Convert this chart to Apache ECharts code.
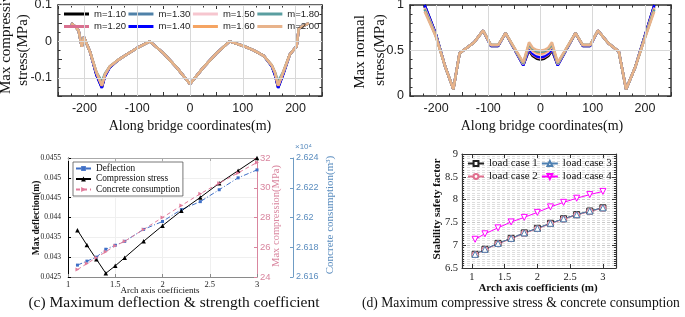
<!DOCTYPE html>
<html>
<head>
<meta charset="utf-8">
<script src="https://cdn.jsdelivr.net/npm/echarts@6/dist/echarts.min.js"></script>
<style>
html, body { margin: 0; padding: 0; background: #fff; }
#chart { width: 685px; height: 317px; }
</style>
</head>
<body>
<div id="chart"></div>
<script>
// ---- (a) max compressive stress along the bridge, one array per arch axis coefficient
const mNames = ['m=1.10', 'm=1.20', 'm=1.30', 'm=1.40', 'm=1.50', 'm=1.60', 'm=1.80', 'm=2.00'];
const mColors = ['#000000', '#d9708f', '#4f81a8', '#0000ff', '#f6c6cf', '#f5a462', '#5a9ea0', '#e8b38b'];

const xComp = [-225, -218, -211, -205, -201, -189, -177, -167, -161, -152, -135, -120, -100, -76, -50, -25, 0,
  25, 50, 75, 100, 120, 140, 155, 161, 167, 177, 189, 202, 206, 211, 218, 225];
const comp110 = [0.050, 0.042, 0.030, -0.015, 0.012, -0.030, -0.093, -0.127, -0.095, -0.071, -0.050, -0.036, -0.018, 0.000, -0.033, -0.072, -0.117,
  -0.072, -0.033, 0.000, -0.012, -0.024, -0.040, -0.068, -0.092, -0.127, -0.088, -0.036, -0.013, 0.035, 0.040, 0.045, 0.050];
const comp120 = [0.050, 0.042, 0.030, -0.015, 0.012, -0.030, -0.090, -0.125, -0.093, -0.070, -0.050, -0.036, -0.018, 0.000, -0.033, -0.072, -0.117,
  -0.072, -0.033, 0.000, -0.012, -0.024, -0.040, -0.067, -0.089, -0.125, -0.086, -0.036, -0.013, 0.035, 0.040, 0.045, 0.050];
const comp130 = [0.050, 0.042, 0.030, -0.015, 0.012, -0.030, -0.089, -0.123, -0.092, -0.070, -0.050, -0.036, -0.018, 0.000, -0.033, -0.072, -0.117,
  -0.072, -0.033, 0.000, -0.012, -0.024, -0.040, -0.067, -0.088, -0.123, -0.085, -0.036, -0.013, 0.035, 0.040, 0.045, 0.050];
const comp140 = [0.050, 0.042, 0.030, -0.015, 0.012, -0.030, -0.094, -0.128, -0.096, -0.072, -0.050, -0.036, -0.018, 0.000, -0.033, -0.072, -0.117,
  -0.072, -0.033, 0.000, -0.012, -0.024, -0.040, -0.069, -0.093, -0.128, -0.089, -0.036, -0.013, 0.035, 0.040, 0.045, 0.050];
const comp150 = [0.050, 0.042, 0.030, -0.015, 0.012, -0.030, -0.087, -0.121, -0.091, -0.069, -0.050, -0.036, -0.018, 0.000, -0.033, -0.072, -0.117,
  -0.072, -0.033, 0.000, -0.012, -0.024, -0.040, -0.066, -0.086, -0.121, -0.084, -0.036, -0.013, 0.035, 0.040, 0.045, 0.050];
const comp160 = [0.050, 0.042, 0.030, -0.015, 0.012, -0.030, -0.087, -0.122, -0.091, -0.069, -0.050, -0.036, -0.018, 0.000, -0.033, -0.072, -0.117,
  -0.072, -0.033, 0.000, -0.012, -0.024, -0.040, -0.066, -0.086, -0.122, -0.083, -0.036, -0.013, 0.035, 0.040, 0.045, 0.050];
const comp180 = [0.050, 0.042, 0.030, -0.015, 0.012, -0.030, -0.085, -0.110, -0.088, -0.069, -0.050, -0.036, -0.018, 0.000, -0.033, -0.072, -0.117,
  -0.072, -0.033, 0.000, -0.012, -0.024, -0.040, -0.066, -0.085, -0.110, -0.082, -0.036, -0.013, 0.035, 0.040, 0.045, 0.050];
const comp200 = [0.050, 0.042, 0.030, -0.015, 0.012, -0.030, -0.085, -0.120, -0.090, -0.069, -0.050, -0.036, -0.018, 0.000, -0.033, -0.072, -0.117,
  -0.072, -0.033, 0.000, -0.012, -0.024, -0.040, -0.066, -0.085, -0.120, -0.082, -0.036, -0.013, 0.035, 0.040, 0.045, 0.050];

// ---- (b) max normal stress along the bridge
const xNorm = [-222, -201, -183, -167, -155, -127, -110, -95, -81, -67, -33, -22, -15, -7, 0,
  7, 15, 22, 33, 67, 81, 95, 110, 130, 150, 164, 181, 195, 218];
const norm110 = [1.00, 0.69, 0.33, 0.075, 0.47, 0.59, 0.72, 0.55, 0.55, 0.69, 0.34, 0.50, 0.44, 0.41, 0.40,
  0.41, 0.44, 0.50, 0.34, 0.69, 0.55, 0.55, 0.72, 0.58, 0.49, 0.075, 0.31, 0.57, 1.00];
const norm120 = [0.99, 0.68, 0.33, 0.075, 0.47, 0.59, 0.72, 0.555, 0.555, 0.69, 0.34, 0.51, 0.455, 0.425, 0.415,
  0.425, 0.455, 0.51, 0.34, 0.69, 0.555, 0.555, 0.72, 0.58, 0.49, 0.075, 0.31, 0.565, 0.99];
const norm130 = [0.98, 0.68, 0.33, 0.075, 0.47, 0.59, 0.72, 0.56, 0.56, 0.69, 0.345, 0.53, 0.47, 0.44, 0.43,
  0.44, 0.47, 0.53, 0.345, 0.69, 0.56, 0.56, 0.72, 0.58, 0.49, 0.075, 0.31, 0.56, 0.98];
const norm140 = [1.00, 0.69, 0.33, 0.075, 0.47, 0.59, 0.72, 0.55, 0.55, 0.69, 0.335, 0.52, 0.465, 0.435, 0.425,
  0.435, 0.465, 0.52, 0.335, 0.69, 0.55, 0.55, 0.72, 0.58, 0.49, 0.075, 0.31, 0.57, 1.00];
const norm150 = [0.97, 0.675, 0.33, 0.075, 0.47, 0.59, 0.72, 0.56, 0.56, 0.69, 0.35, 0.55, 0.49, 0.46, 0.45,
  0.46, 0.49, 0.55, 0.35, 0.69, 0.56, 0.56, 0.72, 0.58, 0.49, 0.075, 0.31, 0.56, 0.97];
const norm160 = [0.96, 0.67, 0.33, 0.075, 0.47, 0.59, 0.72, 0.56, 0.56, 0.69, 0.355, 0.56, 0.50, 0.475, 0.465,
  0.475, 0.50, 0.56, 0.355, 0.69, 0.56, 0.56, 0.72, 0.58, 0.49, 0.075, 0.31, 0.555, 0.96];
const norm180 = [0.95, 0.665, 0.33, 0.075, 0.47, 0.59, 0.72, 0.56, 0.56, 0.69, 0.36, 0.57, 0.515, 0.49, 0.485,
  0.49, 0.515, 0.57, 0.36, 0.69, 0.56, 0.56, 0.72, 0.58, 0.49, 0.075, 0.31, 0.555, 0.95];
const norm200 = [0.93, 0.66, 0.33, 0.075, 0.47, 0.59, 0.72, 0.56, 0.56, 0.69, 0.37, 0.59, 0.53, 0.505, 0.50,
  0.505, 0.53, 0.59, 0.37, 0.69, 0.56, 0.56, 0.72, 0.58, 0.49, 0.075, 0.31, 0.55, 0.93];

// ---- (c) deflection / compression / concrete vs arch axis coefficient
const xC = [1.1, 1.2, 1.3, 1.4, 1.5, 1.6, 1.8, 2.0, 2.2, 2.4, 2.6, 2.8, 3.0];
const deflection = [0.0428, 0.0429, 0.0430, 0.0432, 0.0433, 0.0434, 0.0437, 0.0439, 0.0442, 0.0444, 0.0447, 0.0450, 0.0452];
const compression = [27.15, 26.15, 25.2, 24.25, 24.75, 25.3, 26.4, 27.45, 28.45, 29.35, 30.3, 31.15, 32.0];
const concrete = [2.6165, 2.6169, 2.6173, 2.6177, 2.6181, 2.6184, 2.6192, 2.6200, 2.6208, 2.6216, 2.6223, 2.6230, 2.6237]; // x10^4 m3

// ---- (d) stability safety factor
const xD = [1.05, 1.2, 1.4, 1.6, 1.8, 2.0, 2.2, 2.4, 2.6, 2.8, 3.0];
const lc1 = [6.80, 6.91, 7.04, 7.15, 7.27, 7.37, 7.48, 7.58, 7.67, 7.75, 7.82];
const lc2 = [6.79, 6.90, 7.03, 7.14, 7.26, 7.36, 7.47, 7.57, 7.66, 7.74, 7.81];
const lc3 = [6.80, 6.91, 7.04, 7.15, 7.27, 7.37, 7.48, 7.58, 7.67, 7.75, 7.82];
const lc4 = [7.13, 7.25, 7.38, 7.51, 7.61, 7.72, 7.84, 7.94, 8.03, 8.11, 8.18];
const dTicks = [1, 1.5, 2, 2.5, 3];

const SERIF = '"Liberation Serif", "Times New Roman", serif';
const SANS = '"Liberation Sans", Arial, sans-serif';
const FRAME = '#333';

const compArrays = [comp110, comp120, comp130, comp140, comp150, comp160, comp180, comp200];
const normArrays = [norm110, norm120, norm130, norm140, norm150, norm160, norm180, norm200];
const zip = (xs, ys) => xs.map((x, i) => [x, ys[i]]);

// a value axis drawn as one side of a closed box, ticks pointing in
function boxAxis(grid, pos, min, max, interval, minor, labelOpt) {
  return {
    type: 'value', gridIndex: grid, position: pos, min: min, max: max, interval: interval,
    axisLine: { show: true, onZero: false, lineStyle: { color: FRAME, width: 1.5 } },
    axisTick: { show: true, inside: true, length: 4, lineStyle: { color: FRAME } },
    minorTick: { show: minor > 0, splitNumber: minor || 1, length: 2.5, lineStyle: { color: FRAME } },
    axisLabel: labelOpt ? labelOpt : { show: false },
    splitLine: { show: false }
  };
}

const tenths = v => {
  const r = Math.round(v * 100) / 100;
  return Math.abs(r * 10 - Math.round(r * 10)) < 1e-6 ? String(r) : '';
};
const hundreds = v => (v % 100 === 0 && Math.abs(v) < 250) ? String(v) : '';
const topLabel = (fmt) => ({ show: true, formatter: fmt, fontFamily: SANS, fontSize: 12.5, color: '#222', margin: 6 });

const gridLineStyle = { color: '#d8d8d8', width: 1, type: 'solid' };
function gridHelper(xi, yi, marks) {
  return {
    type: 'line', xAxisIndex: xi, yAxisIndex: yi, data: [], z: 1, silent: true,
    markLine: { silent: true, symbol: ['none', 'none'], label: { show: false }, lineStyle: gridLineStyle, data: marks }
  };
}

const series = [
  gridHelper(0, 0, [{ xAxis: -200 }, { xAxis: -100 }, { xAxis: 0 }, { xAxis: 100 }, { xAxis: 200 },
    { yAxis: 0.1 }, { yAxis: 0 }, { yAxis: -0.1 }]),
  gridHelper(2, 2, [{ xAxis: -200 }, { xAxis: -100 }, { xAxis: 0 }, { xAxis: 100 }, { xAxis: 200 },
    { yAxis: 0.5 }])
];
mNames.forEach((name, i) => {
  series.push({
    name: name, type: 'line', xAxisIndex: 0, yAxisIndex: 0, showSymbol: false, z: 3,
    data: zip(xComp, compArrays[i]), color: mColors[i], lineStyle: { width: 2.5 }
  });
});
mNames.forEach((name, i) => {
  series.push({
    name: name, type: 'line', xAxisIndex: 2, yAxisIndex: 2, showSymbol: false, z: 3,
    data: zip(xNorm, normArrays[i]), color: mColors[i], lineStyle: { width: 2.5 }
  });
});

series.push(
  { name: 'Deflection', type: 'line', xAxisIndex: 4, yAxisIndex: 4, data: zip(xC, deflection),
    color: '#3f6fc6', symbol: 'rect', symbolSize: 3, lineStyle: { width: 1, type: [5, 2, 1, 2] } },
  { name: 'Compression stress', type: 'line', xAxisIndex: 4, yAxisIndex: 5, data: zip(xC, compression),
    color: '#000', symbol: 'triangle', symbolSize: 4.5, lineStyle: { width: 1 } },
  { name: 'Concrete consumption', type: 'line', xAxisIndex: 4, yAxisIndex: 6, data: zip(xC, concrete),
    color: '#e07a9a', symbol: 'triangle', symbolRotate: -90, symbolSize: 4, lineStyle: { width: 1, type: [4, 3] } }
);

const downTri = 'path://M0,0 L10,0 L5,8.66 Z';
[[lc1, 'load case 1', '#222222', 'rect'], [lc2, 'load case 2', '#e0708e', 'circle'],
 [lc3, 'load case 3', '#4d7fb0', 'triangle'], [lc4, 'load case 4', '#ff00ff', downTri]].forEach(s => {
  series.push({
    name: s[1], type: 'line', xAxisIndex: 6, yAxisIndex: 7, data: zip(xD, s[0]),
    symbol: s[3], symbolSize: 6, color: s[2],
    itemStyle: { color: '#fff', borderColor: s[2], borderWidth: 1 },
    lineStyle: { color: s[2], width: 1 }
  });
});

const txt = (x, y, text, font, fill, rot, align) => ({
  type: 'text', x: x, y: y, rotation: rot || 0, silent: true,
  style: { text: text, font: font, fill: fill || '#111', align: align || 'center', verticalAlign: 'middle',
    textAlign: align || 'center', textVerticalAlign: 'middle' }
});
const R = Math.PI / 2;

const mLegend = (names, top) => ({
  data: names, left: 64, top: top, padding: 0, icon: 'rect',
  itemWidth: 25, itemHeight: 3, itemGap: 2.5, selectedMode: false,
  textStyle: { fontFamily: SANS, fontSize: 9.5, color: '#222' }
});
const dLegend = (names, top) => ({
  data: names, left: 467, top: top, padding: 0,
  itemWidth: 16, itemHeight: 6, itemGap: 3, selectedMode: false,
  textStyle: { fontFamily: SERIF, fontSize: 11, color: '#111' }
});

const option = {
  animation: false,
  backgroundColor: '#fff',
  grid: [
    { left: 58, top: 5, width: 264, height: 91, outerBoundsMode: 'none' },
    { left: 410, top: 5, width: 261, height: 91, outerBoundsMode: 'none' },
    { left: 68, top: 158, width: 189, height: 119, outerBoundsMode: 'none' },
    { left: 462, top: 154, width: 154, height: 114, outerBoundsMode: 'none' }
  ],
  xAxis: [
    boxAxis(0, 'bottom', -250, 250, 50, 2, topLabel(hundreds)),
    boxAxis(0, 'top', -250, 250, 50, 2),
    boxAxis(1, 'bottom', -250, 250, 50, 2, topLabel(hundreds)),
    boxAxis(1, 'top', -250, 250, 50, 2),
    {
      type: 'value', gridIndex: 2, position: 'bottom', min: 1, max: 3, interval: 0.5,
      axisLine: { onZero: false, lineStyle: { color: '#8a8a8a', width: 1 } },
      axisTick: { inside: true, length: 3, lineStyle: { color: '#8a8a8a' } },
      axisLabel: { fontFamily: SERIF, fontSize: 8.5, color: '#222', margin: 3 },
      splitLine: { show: true, lineStyle: { color: '#efefef' } }
    },
    {
      type: 'value', gridIndex: 2, position: 'top', min: 1, max: 3, interval: 0.5,
      axisLine: { onZero: false, lineStyle: { color: '#aaa', width: 1 } },
      axisTick: { inside: true, length: 3, lineStyle: { color: '#aaa' } },
      axisLabel: { show: false }, splitLine: { show: false }
    },
    {
      type: 'value', gridIndex: 3, position: 'bottom', min: 0.85, max: 3.2,
      axisLine: { onZero: false, lineStyle: { color: FRAME, width: 1.2 } },
      axisTick: { inside: true, length: 4, customValues: dTicks, lineStyle: { color: FRAME } },
      axisLabel: { customValues: dTicks, fontFamily: SERIF, fontSize: 10.5, color: '#222', margin: 4 },
      splitLine: { show: false }
    },
    {
      type: 'value', gridIndex: 3, position: 'top', min: 0.85, max: 3.2,
      axisLine: { onZero: false, lineStyle: { color: FRAME, width: 1.2 } },
      axisTick: { inside: true, length: 4, customValues: dTicks, lineStyle: { color: FRAME } },
      axisLabel: { show: false }, splitLine: { show: false }
    }
  ],
  yAxis: [
    boxAxis(0, 'left', -0.15, 0.1, 0.05, 2, topLabel(tenths)),
    boxAxis(0, 'right', -0.15, 0.1, 0.05, 2),
    boxAxis(1, 'left', 0, 1, 0.5, 5, topLabel(v => String(parseFloat(v.toFixed(2))))),
    boxAxis(1, 'right', 0, 1, 0.5, 5),
    {
      type: 'value', gridIndex: 2, position: 'left', min: 0.0425, max: 0.0455, interval: 0.0005,
      axisLine: { onZero: false, lineStyle: { color: '#000', width: 1 } },
      axisTick: { inside: true, length: 3, lineStyle: { color: '#000' } },
      axisLabel: { formatter: v => String(parseFloat(v.toFixed(4))), fontFamily: SERIF, fontSize: 7.5, color: '#222', margin: 7 },
      splitLine: { show: true, lineStyle: { color: '#efefef' } }
    },
    {
      type: 'value', gridIndex: 2, position: 'right', offset: 0, min: 24, max: 32, interval: 2,
      axisLine: { onZero: false, lineStyle: { color: '#d9869f', width: 1 } },
      axisTick: { inside: true, length: 3, lineStyle: { color: '#d9869f' } },
      axisLabel: { fontFamily: SANS, fontSize: 9.5, color: '#d9869f', margin: 3 },
      splitLine: { show: false }
    },
    {
      type: 'value', gridIndex: 2, position: 'right', offset: 36, min: 2.616, max: 2.624, interval: 0.002,
      axisLine: { onZero: false, lineStyle: { color: '#6f9cc4', width: 1 } },
      axisTick: { inside: true, length: 3, lineStyle: { color: '#6f9cc4' } },
      axisLabel: { formatter: v => String(parseFloat(v.toFixed(3))), fontFamily: SANS, fontSize: 9, color: '#5b8dbf', margin: 3 },
      splitLine: { show: false }
    },
    {
      type: 'value', gridIndex: 3, position: 'left', min: 6.5, max: 9, interval: 0.5,
      axisLine: { onZero: false, lineStyle: { color: FRAME, width: 1.2 } },
      axisTick: { inside: true, length: 4, lineStyle: { color: FRAME } },
      minorTick: { show: true, splitNumber: 10, length: 2, lineStyle: { color: FRAME } },
      axisLabel: { formatter: v => String(parseFloat(v.toFixed(2))), fontFamily: SERIF, fontSize: 10.5, color: '#222', margin: 4 },
      splitLine: { show: true, lineStyle: { color: '#c8c8c8', type: [3, 2] } },
      minorSplitLine: { show: true, lineStyle: { color: '#dedede', type: [3, 2] } }
    },
    {
      type: 'value', gridIndex: 3, position: 'right', min: 6.5, max: 9, interval: 0.5,
      axisLine: { onZero: false, lineStyle: { color: FRAME, width: 1.2 } },
      axisTick: { inside: true, length: 4, lineStyle: { color: FRAME } },
      minorTick: { show: true, splitNumber: 10, length: 2, lineStyle: { color: FRAME } },
      axisLabel: { show: false }, splitLine: { show: false }
    }
  ],
  legend: [
    mLegend(['m=1.10', 'm=1.30', 'm=1.50', 'm=1.80'], 9),
    mLegend(['m=1.20', 'm=1.40', 'm=1.60', 'm=2.00'], 21.5),
    { data: ['Deflection', 'Compression stress', 'Concrete consumption'], orient: 'vertical',
      left: 73, top: 162, padding: [2, 3, 2, 2], itemWidth: 15, itemHeight: 6, itemGap: 1.5,
      borderColor: '#555', borderWidth: 0.8, backgroundColor: '#fff', selectedMode: false,
      textStyle: { fontFamily: SERIF, fontSize: 9.3, color: '#111' } },
    dLegend(['load case 1', 'load case 3'], 158),
    dLegend(['load case 2', 'load case 4'], 171)
  ],
  graphic: [
    txt(6, 41, 'Max compressive', '15px ' + SERIF, '#111', R),
    txt(23, 50, 'stress(MPa)', '15px ' + SERIF, '#111', R),
    txt(190, 126, 'Along bridge coordinates(m)', '14px ' + SERIF),
    txt(360, 52, 'Max normal', '15px ' + SERIF, '#111', R),
    txt(380, 50, 'stress(MPa)', '15px ' + SERIF, '#111', R),
    txt(542, 126, 'Along bridge coordinates(m)', '14px ' + SERIF),
    txt(37, 218, 'Max deflection(m)', 'bold 9.5px ' + SERIF, '#111', R),
    txt(160, 291, 'Arch axis coefficients', '9px ' + SERIF),
    txt(276, 216, 'Max compression(MPa)', '10.5px ' + SERIF, '#d9869f', R),
    txt(330, 215, 'Concrete consumption(m³)', '11px ' + SERIF, '#5b8dbf', R),
    txt(295, 147, '×10⁴', '8px ' + SANS, '#5b8dbf', 0, 'left'),
    txt(437, 209, 'Stability safety factor', 'bold 11px ' + SERIF, '#111', R),
    txt(538, 288, 'Arch axis coefficients (m)', 'bold 11px ' + SERIF),
    txt(174, 303, '(c) Maximum deflection & strength coefficient', '15.5px ' + SERIF),
    txt(362, 303, '(d) Maximum compressive stress & concrete consumption', '13.6px ' + SERIF, '#111', 0, 'left')
  ],
  series: series
};

const chart = echarts.init(document.getElementById('chart'), null, { renderer: 'canvas', width: 685, height: 317 });
chart.setOption(option);
</script>
</body>
</html>
